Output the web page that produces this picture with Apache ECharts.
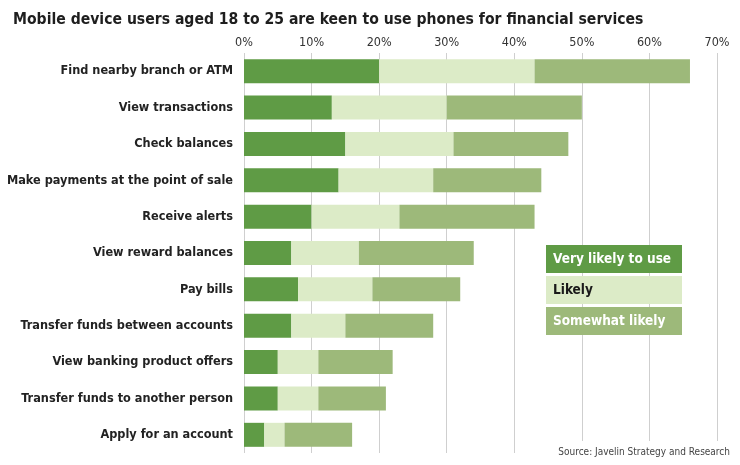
<!DOCTYPE html>
<html>
<head>
<meta charset="utf-8">
<script src="https://cdn.jsdelivr.net/npm/echarts@6/dist/echarts.min.js"></script>
<style>
    html, body { margin: 0; padding: 0; background: #fff; }
    #main { width: 740px; height: 465px; }
</style>
</head>
<body>
<div id="main"></div>
<script>
// categories, top to bottom
const categories = [
    'Find nearby branch or ATM',
    'View transactions',
    'Check balances',
    'Make payments at the point of sale',
    'Receive alerts',
    'View reward balances',
    'Pay bills',
    'Transfer funds between accounts',
    'View banking product offers',
    'Transfer funds to another person',
    'Apply for an account'
];
const seriesNames = ['Very likely to use', 'Likely', 'Somewhat likely'];
// percent of respondents
const veryLikely = [20, 13, 15, 14, 10, 7, 8, 7, 5, 5, 3];
const likely = [23, 17, 16, 14, 13, 10, 11, 8, 6, 6, 3];
const somewhatLikely = [23, 20, 17, 16, 20, 17, 13, 13, 11, 10, 10];
const xTicks = [0, 10, 20, 30, 40, 50, 60, 70];

const FONT = '"DejaVu Sans Condensed", "Liberation Sans Narrow", sans-serif';
const colors = ['#5f9b45', '#dcebc7', '#9db97a'];
const legendText = ['#ffffff', '#1a1a1a', '#ffffff'];

let myChart = echarts.init(document.getElementById('main'));

let option = {
    animation: false,
    backgroundColor: '#fff',
    title: {
        text: 'Mobile device users aged 18 to 25 are keen to use phones for financial services',
        left: 8,
        top: 7,
        textStyle: {
            fontFamily: FONT,
            fontSize: 15.6,
            fontWeight: 'bold',
            color: '#1e1e1e'
        }
    },
    legend: {
        orient: 'vertical',
        left: 541,
        top: 245,
        padding: 0,
        itemGap: 3,
        itemWidth: 0,
        itemHeight: 0,
        icon: 'rect',
        selectedMode: false,
        data: seriesNames.map((name, i) => {
            return {
                name: name,
                textStyle: {
                    color: legendText[i],
                    backgroundColor: colors[i],
                    width: 122,
                    height: 18,
                    lineHeight: 18,
                    padding: [5, 7, 5, 7],
                    fontFamily: FONT,
                    fontSize: 13.5,
                    fontWeight: 'bold'
                }
            }
        })
    },
    grid: {
        left: 244,
        right: 23,
        top: 53,
        bottom: 12,
        outerBoundsMode: 'none',
        containLabel: false
    },
    xAxis: {
        type: 'value',
        position: 'top',
        min: 0,
        max: 70,
        interval: 10,
        axisLine: {show: false},
        axisTick: {show: false},
        axisLabel: {
            formatter: v => xTicks.indexOf(v) >= 0 ? v + '%' : '',
            fontFamily: FONT,
            fontSize: 12.5,
            color: '#333',
            margin: 4
        },
        splitLine: {
            lineStyle: {color: '#cfcfcf', width: 1}
        }
    },
    yAxis: {
        type: 'category',
        inverse: true,
        data: categories,
        axisLine: {show: false},
        axisTick: {show: false},
        axisLabel: {
            fontFamily: FONT,
            fontSize: 12.6,
            fontWeight: 'bold',
            color: '#222',
            margin: 11
        }
    },
    series: [veryLikely, likely, somewhatLikely].map((vals, i) => {
        return {
            name: seriesNames[i],
            type: 'bar',
            stack: 'total',
            barWidth: 24,
            data: vals,
            itemStyle: {color: colors[i]},
            z: 3
        }
    }),
    graphic: [{
        type: 'rect',
        left: 548,
        top: 441,
        shape: {width: 192, height: 24},
        style: {fill: '#fff'},
        z: 100
    }, {
        type: 'text',
        right: 10,
        top: 447,
        style: {
            text: 'Source: Javelin Strategy and Research',
            fontFamily: FONT,
            fontSize: 10,
            fill: '#444'
        },
        z: 101
    }]
};

myChart.setOption(option);
</script>
</body>
</html>
